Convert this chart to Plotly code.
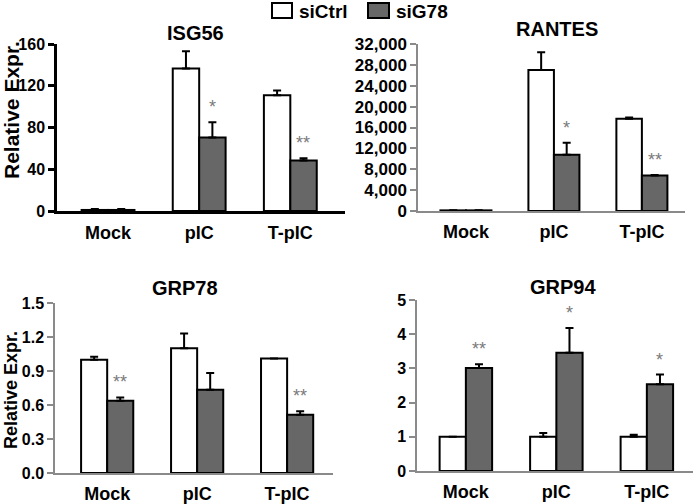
import plotly.graph_objects as go

W, H = 693, 504

categories = ["Mock", "pIC", "T-pIC"]

# ISG56
isg56_ctrl = [1.0, 136.5, 111.0]
isg56_ctrl_err = [0.8, 16.5, 4.5]
isg56_g78 = [1.0, 70.5, 48.5]
isg56_g78_err = [0.8, 14.5, 2.0]
isg56_sig = ["", "*", "**"]

# RANTES
rantes_ctrl = [120, 27000, 17700]
rantes_ctrl_err = [0, 3400, 200]
rantes_g78 = [120, 10800, 6800]
rantes_g78_err = [0, 2300, 100]
rantes_sig = ["", "*", "**"]

# GRP78
grp78_ctrl = [1.0, 1.10, 1.01]
grp78_ctrl_err = [0.025, 0.13, 0.0]
grp78_g78 = [0.637, 0.735, 0.514]
grp78_g78_err = [0.03, 0.148, 0.03]
grp78_sig = ["**", "", "**"]

# GRP94
grp94_ctrl = [1.0, 1.0, 1.0]
grp94_ctrl_err = [0.0, 0.11, 0.06]
grp94_g78 = [3.01, 3.46, 2.54]
grp94_g78_err = [0.11, 0.72, 0.28]
grp94_sig = ["**", "*", "*"]

titles = ["ISG56", "RANTES", "GRP78", "GRP94"]
series_names = ["siCtrl", "siG78"]
y_title = "Relative Expr."

FONT = "Arial, Liberation Sans, sans-serif"
WHITE = "#ffffff"
GRAY = "#676767"


def px(x):
    return x / W


def py(y):
    return 1 - y / H


panels = [
    dict(ctrl=isg56_ctrl, ce=isg56_ctrl_err, g=isg56_g78, ge=isg56_g78_err, sig=isg56_sig,
         xdom=(57, 345), ydom=(44, 211), xr=[-0.56, 2.60], yr=[0, 160], dt=40, fmt="",
         axc="#000000", axw=2.5, title_xy=(195, 33), tfs=16),
    dict(ctrl=rantes_ctrl, ce=rantes_ctrl_err, g=rantes_g78, ge=rantes_g78_err, sig=rantes_sig,
         xdom=(418, 685), ydom=(44, 211), xr=[-0.545, 2.49], yr=[0, 32000], dt=4000, fmt=",",
         axc="#8a8a8a", axw=1.5, title_xy=(557, 29), tfs=17),
    dict(ctrl=grp78_ctrl, ce=grp78_ctrl_err, g=grp78_g78, ge=grp78_g78_err, sig=grp78_sig,
         xdom=(55, 333), ydom=(303, 473), xr=[-0.58, 2.51], yr=[0, 1.5], dt=0.3, fmt=".1f",
         axc="#8a8a8a", axw=1.5, title_xy=(185, 288), tfs=16),
    dict(ctrl=grp94_ctrl, ce=grp94_ctrl_err, g=grp94_g78, ge=grp94_g78_err, sig=grp94_sig,
         xdom=(417, 693), ydom=(300, 471), xr=[-0.54, 2.51], yr=[0, 5], dt=1, fmt="",
         axc="#8a8a8a", axw=1.5, title_xy=(563, 287), tfs=16),
]

fig = go.Figure()
annotations = []
shapes = []

for i, p in enumerate(panels):
    n = "" if i == 0 else str(i + 1)
    xa, ya = "x" + n, "y" + n
    for vals, errs, fill, name in [(p["ctrl"], p["ce"], WHITE, series_names[0]),
                                   (p["g"], p["ge"], GRAY, series_names[1])]:
        fig.add_trace(go.Bar(
            x=categories, y=vals, name=name, xaxis=xa, yaxis=ya,
            marker=dict(color=fill, line=dict(color="#000000", width=2)),
            error_y=dict(type="data", array=errs, arrayminus=[0] * len(errs),
                         symmetric=False, color="#000000", thickness=2, width=4,
                         visible=True),
            showlegend=False, offsetgroup=name, hoverinfo="skip",
        ))
    fig.layout["xaxis" + n] = dict(
        domain=[px(p["xdom"][0]), px(p["xdom"][1])], anchor=ya,
        type="category", range=p["xr"], showline=True, linecolor=p["axc"],
        linewidth=p["axw"], ticks="", showgrid=False, zeroline=False,
        tickfont=dict(family=FONT, size=18, color="#000000", weight="bold"),
        ticklabelstandoff=4, automargin=False,
    )
    fig.layout["yaxis" + n] = dict(
        domain=[py(p["ydom"][1]), py(p["ydom"][0])], anchor=xa,
        range=p["yr"], dtick=p["dt"], tick0=0, tickformat=p["fmt"],
        showline=True, linecolor=p["axc"], linewidth=p["axw"],
        ticks="outside", ticklen=6, tickwidth=p["axw"], tickcolor=p["axc"],
        showgrid=False, zeroline=False, automargin=False,
        tickfont=dict(family=FONT, size=p["tfs"], color="#000000", weight="bold"),
    )
    # panel title
    annotations.append(dict(
        text="<b>%s</b>" % titles[i], x=px(p["title_xy"][0]), y=py(p["title_xy"][1]),
        xref="paper", yref="paper", xanchor="center", yanchor="middle",
        showarrow=False, font=dict(family=FONT, size=20, color="#000000"),
    ))
    # significance stars above siG78 bars
    for c, v, e, s in zip(categories, p["g"], p["ge"], p["sig"]):
        if s:
            annotations.append(dict(
                text=s, x=c, y=v + e, xref=xa, yref=ya, xshift=13, yshift=3,
                xanchor="center", yanchor="bottom", showarrow=False,
                font=dict(family=FONT, size=18, color="#7a7a7a"),
            ))

# y-axis titles
annotations.append(dict(text="<b>%s</b>" % y_title, x=px(11), y=py(110), xref="paper",
                        yref="paper", textangle=-90, showarrow=False,
                        xanchor="center", yanchor="middle",
                        font=dict(family=FONT, size=21, color="#000000")))
annotations.append(dict(text="<b>%s</b>" % y_title, x=px(11), y=py(390), xref="paper",
                        yref="paper", textangle=-90, showarrow=False,
                        xanchor="center", yanchor="middle",
                        font=dict(family=FONT, size=18, color="#000000")))

# legend
for (x0, x1), fill, name in [((272, 292), WHITE, series_names[0]),
                              ((368, 389), GRAY, series_names[1])]:
    shapes.append(dict(type="rect", xref="paper", yref="paper",
                       x0=px(x0), x1=px(x1), y0=py(18), y1=py(3),
                       fillcolor=fill, line=dict(color="#000000", width=2)))
    annotations.append(dict(text="<b>%s</b>" % name, x=px(x1 + 5), y=py(11),
                            xref="paper", yref="paper", xanchor="left",
                            yanchor="middle", showarrow=False,
                            font=dict(family=FONT, size=19, color="#000000")))

fig.update_layout(
    width=W, height=H, margin=dict(l=0, r=0, t=0, b=0, autoexpand=False),
    paper_bgcolor="white", plot_bgcolor="white",
    barmode="group", bargap=0.42, bargroupgap=0,
    annotations=annotations, shapes=shapes, showlegend=False,
    font=dict(family=FONT),
)

fig.write_html("out.html", config={"displayModeBar": False},
               post_script="document.body.style.margin='0';document.body.style.overflow='hidden';")
